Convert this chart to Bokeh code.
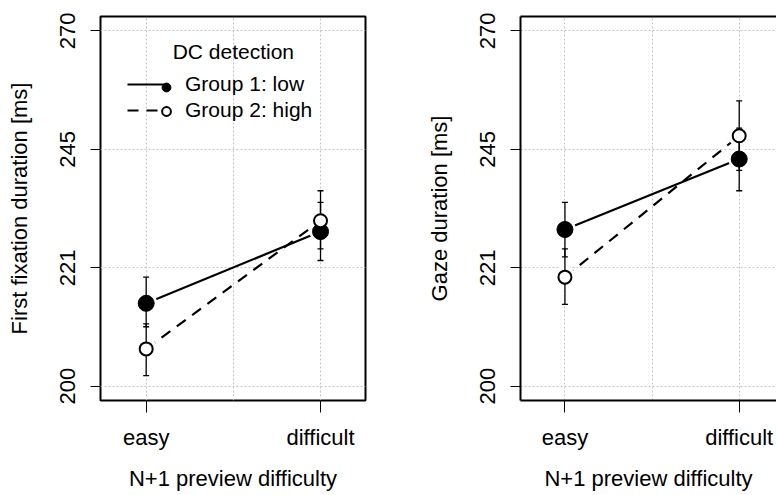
from bokeh.plotting import figure
from bokeh.models import (ColumnDataSource, FixedTicker, CustomJSTickFormatter,
                          Legend, LegendItem, Label, LinearAxis, Range1d)
from bokeh.layouts import row
from bokeh.embed import file_html
from bokeh.resources import INLINE

# ---------------- data ----------------
conditions = ["easy", "difficult"]
x_pos = [1, 2]

ffd_g1_mean = [214.5, 227.9]
ffd_g1_lower = [210.3, 222.4]
ffd_g1_upper = [219.3, 233.6]
ffd_g2_mean = [206.4, 230.0]
ffd_g2_lower = [201.8, 224.6]
ffd_g2_upper = [210.8, 235.9]

gd_g1_mean = [228.3, 242.3]
gd_g1_lower = [223.1, 235.9]
gd_g1_upper = [233.6, 248.7]
gd_g2_mean = [219.3, 247.1]
gd_g2_lower = [214.3, 240.0]
gd_g2_upper = [224.6, 254.5]

y_ticks = [200, 221.04, 244.29, 270]
y_tick_labels = ["200", "221", "245", "270"]
x_grid = [1, 1.5, 2]

group_labels = ["Group 1: low", "Group 2: high"]
legend_title = "DC detection"
x_title = "N+1 preview difficulty"
y_titles = ["First fixation duration [ms]", "Gaze duration [ms]"]

FONT = "Liberation Sans"
H = 495


def make_panel(ylabel, g1, g2, width, border_left, border_right, xr, legend):
    p = figure(width=width, height=H, x_range=Range1d(*xr), y_range=Range1d(197.6, 273.3),
               y_axis_type="log", output_backend="svg", toolbar_location=None,
               min_border_left=border_left, min_border_right=border_right,
               min_border_top=16, min_border_bottom=95)
    p.background_fill_color = "white"
    p.border_fill_color = "white"

    # grid
    p.xgrid.ticker = FixedTicker(ticks=x_grid)
    p.ygrid.ticker = FixedTicker(ticks=y_ticks)
    for g in (p.xgrid, p.ygrid):
        g.grid_line_color = "#c4c4c4"
        g.grid_line_dash = "2 2"
        g.grid_line_width = 1

    # axes
    p.xaxis.ticker = FixedTicker(ticks=x_pos)
    p.xaxis.major_label_overrides = dict(zip(x_pos, conditions))
    p.yaxis.ticker = FixedTicker(ticks=y_ticks)
    p.yaxis.formatter = CustomJSTickFormatter(args=dict(labels=y_tick_labels),
                                              code="return labels[index];")
    p.yaxis.major_label_orientation = "vertical"
    p.xaxis.axis_label = x_title
    p.yaxis.axis_label = ylabel
    for ax in p.axis:
        ax.major_tick_in = 0
        ax.minor_tick_in = 0
        ax.minor_tick_out = 0
        ax.major_tick_line_color = "black"
        ax.major_tick_line_width = 1
        ax.major_label_text_font = FONT
        ax.major_label_text_font_size = "22px"
        ax.major_label_text_color = "black"
        ax.axis_label_text_font = FONT
        ax.axis_label_text_font_size = "22px"
        ax.axis_label_text_font_style = "normal"
        ax.axis_label_text_color = "black"
    p.xaxis.major_tick_out = 12
    p.yaxis.major_tick_out = 10
    p.xaxis.major_label_standoff = 12
    p.xaxis.axis_label_standoff = 13
    p.yaxis.major_label_standoff = 15
    p.yaxis.axis_label_standoff = 26

    if legend:
        p.outline_line_color = "black"
        p.outline_line_width = 2
        p.xaxis.axis_line_color = None
        p.yaxis.axis_line_color = None
    else:
        p.outline_line_color = None
        p.xaxis.axis_line_width = 2
        p.yaxis.axis_line_width = 2
        top = LinearAxis(ticker=FixedTicker(ticks=[]), major_tick_out=0, major_tick_in=0,
                         minor_tick_out=0, minor_tick_in=0, major_label_text_font_size="0px",
                         major_label_standoff=0, axis_line_width=2)
        p.add_layout(top, "above")

    (m1, lo1, up1), (m2, lo2, up2) = g1, g2
    s1 = ColumnDataSource(dict(x=x_pos, y=m1, lower=lo1, upper=up1))
    s2 = ColumnDataSource(dict(x=x_pos, y=m2, lower=lo2, upper=up2))

    # connecting lines
    l1 = p.line("x", "y", source=s1, line_color="black", line_width=2.2)
    l2 = p.line("x", "y", source=s2, line_color="black", line_width=2.2, line_dash="11 8")
    # white halos: gaps between the lines and the points (type = "b")
    for src in (s1, s2):
        p.scatter("x", "y", source=src, marker="circle", size=22, fill_color="white",
                  line_color=None)
    # error bars
    for src in (s1, s2):
        p.segment(x0="x", y0="lower", x1="x", y1="upper", source=src,
                  line_color="black", line_width=1.3)
        for col in ("lower", "upper"):
            p.scatter("x", col, source=src, marker="dash", size=6, line_color="black",
                      line_width=1.3)
    # points
    c1 = p.scatter("x", "y", source=s1, marker="circle", size=16, fill_color="black",
                   line_color="black", line_width=1)
    c2 = p.scatter("x", "y", source=s2, marker="circle", size=13, fill_color="white",
                   line_color="black", line_width=2)

    if legend:
        common = dict(border_line_color=None, background_fill_alpha=0, padding=0, margin=0,
                      spacing=2, glyph_height=22, label_height=22,
                      label_text_font=FONT, label_text_font_size="21px",
                      label_text_color="black")
        lg_lines = Legend(items=[LegendItem(label=group_labels[0], renderers=[l1]),
                                 LegendItem(label=group_labels[1], renderers=[l2])],
                          location=(27, 278), glyph_width=40, label_standoff=18, **common)
        lg_pts = Legend(items=[LegendItem(label=" ", renderers=[c1]),
                               LegendItem(label=" ", renderers=[c2])],
                        location=(55, 278), glyph_width=22, label_standoff=0, **common)
        p.add_layout(lg_lines)
        p.add_layout(lg_pts)
        p.add_layout(Label(x=1.5, y=265.4, text=legend_title, text_align="center",
                           text_baseline="alphabetic", text_font=FONT,
                           text_font_size="21px", text_color="black"))
    return p


p1 = make_panel(y_titles[0], (ffd_g1_mean, ffd_g1_lower, ffd_g1_upper),
                (ffd_g2_mean, ffd_g2_lower, ffd_g2_upper),
                width=420, border_left=100, border_right=55, xr=(0.738, 2.258), legend=True)
p2 = make_panel(y_titles[1], (gd_g1_mean, gd_g1_lower, gd_g1_upper),
                (gd_g2_mean, gd_g2_lower, gd_g2_upper),
                width=356, border_left=100, border_right=0, xr=(0.745, 2.214), legend=False)

layout = row(p1, p2, spacing=0)
open("out.html", "w").write(file_html(layout, INLINE))
